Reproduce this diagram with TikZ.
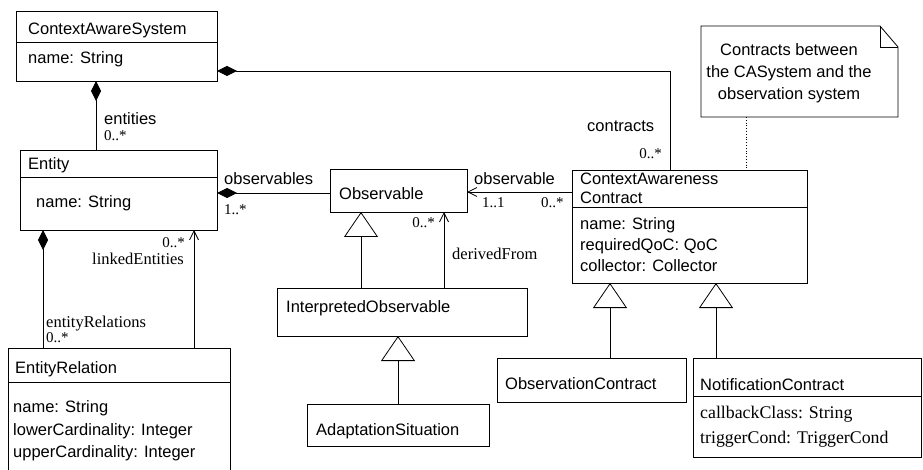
\documentclass[tikz,border=0pt]{standalone}
\usepackage{fontspec}
\setmainfont{Liberation Serif}
\setsansfont{Liberation Sans}
\usetikzlibrary{arrows.meta}
\begin{document}
\begin{tikzpicture}[x=1pt,y=-1pt,
 box/.style={draw, line width=0.8pt, inner sep=0pt, outer sep=0pt, anchor=north west},
 st/.style={anchor=base west, inner sep=0pt, font=\sffamily\fontsize{16.5}{20}\selectfont},
 se/.style={anchor=base west, inner sep=0pt, font=\rmfamily\fontsize{16.5}{20}\selectfont},
 sel/.style={anchor=base west, inner sep=0pt, font=\rmfamily\fontsize{17.8}{20}\selectfont},
 mu/.style={anchor=base west, inner sep=0pt, font=\rmfamily\fontsize{15}{18}\selectfont},
 conn/.style={line width=0.8pt},
 comp/.style={conn, {Diamond[length=20pt,width=10pt]}-},
 nav/.style={conn, -{Straight Barb[length=9pt,width=9pt]}},
 gen/.style={conn, -{Triangle[open,length=25pt,width=34pt,fill=white]}},
]
\clip (0,0) rectangle (923,470);
\fill[white] (0,0) rectangle (923,470);
% boxes
\node[box, minimum width=201pt, minimum height=70pt] (cas) at (16,11) {};
\node[box, minimum width=197pt, minimum height=80pt] (ent) at (20,150) {};
\node[box, minimum width=222pt, minimum height=130pt] (er) at (8,348) {};
\node[box, minimum width=137pt, minimum height=43pt] (obs) at (330,169) {};
\node[box, minimum width=250pt, minimum height=48pt] (io) at (277,288) {};
\node[box, minimum width=182pt, minimum height=42pt] (as) at (307,404) {};
\node[box, minimum width=235pt, minimum height=113pt] (cac) at (572,170) {};
\node[box, minimum width=189pt, minimum height=44pt] (oc) at (497,358) {};
\node[box, minimum width=228pt, minimum height=99pt] (nc) at (693,358) {};
\node[inner sep=0pt, outer sep=0pt, anchor=north west, minimum width=197pt, minimum height=91pt] (note) at (701,26) {};
% dividers
\draw[conn] (cas.west |- 0,42) -- (cas.east |- 0,42);
\draw[conn] (ent.west |- 0,177) -- (ent.east |- 0,177);
\draw[conn] (er.west |- 0,382) -- (er.east |- 0,382);
\draw[conn] (cac.west |- 0,207) -- (cac.east |- 0,207);
\draw[conn] (nc.west |- 0,396) -- (nc.east |- 0,396);
% note shape
\draw[conn] (note.north west) -- (880,26) -- (note.east |- 0,47) -- (note.south east) -- (note.south west) -- cycle;
\draw[conn] (880,26) -- (880,47) -- (note.east |- 0,47);
% texts in boxes
\node[st] (t1) at (28,35) {ContextAwareSystem};
\node[st] (t2) at (28,64) {name: String};
\node[st] (t3) at (28,170) {Entity};
\node[st] (t4) at (36,208) {name: String};
\node[st] (t5) at (15,373) {EntityRelation};
\node[st] (t6) at (13,412) {name: String};
\node[st] (t7) at (13,435) {lowerCardinality: Integer};
\node[st] (t8) at (13,457) {upperCardinality: Integer};
\node[st] (t9) at (339,200) {Observable};
\node[st] (t10) at (286,312) {InterpretedObservable};
\node[st] (t11) at (316,435) {AdaptationSituation};
\node[st] (t12) at (580,185) {ContextAwareness};
\node[st] (t13) at (580,204) {Contract};
\node[st] (t14) at (580,230) {name: String};
\node[st] (t15) at (580,251) {requiredQoC: QoC};
\node[st] (t16) at (580,272) {collector: Collector};
\node[st] (t17) at (505,389) {ObservationContract};
\node[st] (t18) at (700,390) {NotificationContract};
\node[sel] (t19) at (700,418) {callbackClass: String};
\node[sel] (t20) at (700,443) {triggerCond: TriggerCond};
\node[anchor=north, inner sep=0pt, align=center, font=\sffamily\fontsize{16.5}{22}\selectfont] (nt) at (789,43) {Contracts between\\the CASystem and the\\observation system};
% connectors
\draw[comp] (cas.south -| 96,0) -- (ent.north -| 96,0);
\draw[comp] (cas.east |- 0,71) -| (cac.north -| 670,0);
\draw[comp] (ent.east |- 0,193) -- (obs.west |- 0,193);
\draw[nav] (cac.west |- 0,192) -- (obs.east |- 0,192);
\draw[comp] (ent.south -| 43,0) -- (er.north -| 43,0);
\draw[nav] (er.north -| 194,0) -- (ent.south -| 194,0);
\draw[gen] (io.north -| 361,0) -- (obs.south -| 361,0);
\draw[nav] (io.north -| 444,0) -- (obs.south -| 444,0);
\draw[gen] (as.north -| 398,0) -- (io.south -| 398,0);
\draw[gen] (oc.north -| 610,0) -- (cac.south -| 610,0);
\draw[gen] (nc.north -| 716,0) -- (cac.south -| 716,0);
\draw[line width=0.8pt, dotted] (note.south -| 746,0) -- (cac.north -| 746,0);
% connector labels
\node[st] (l1) at (104,125) {entities};
\node[mu] (m1) at (104,141) {0..*};
\node[st] (l2) at (587,132) {contracts};
\node[mu, anchor=base east] (m2) at (662,159) {0..*};
\node[st] (l3) at (224,185) {observables};
\node[mu] (m3) at (224,215) {1..*};
\node[st] (l4) at (474,185) {observable};
\node[mu] (m4) at (482,208) {1..1};
\node[mu] (m5) at (541,208) {0..*};
\node[se] (l5) at (46,327) {entityRelations};
\node[mu] (m6) at (46,342) {0..*};
\node[mu, anchor=base east] (m7) at (185,248) {0..*};
\node[se] (l6) at (92,265) {linkedEntities};
\node[mu, anchor=base east] (m8) at (435,228) {0..*};
\node[se] (l7) at (452,260) {derivedFrom};
\end{tikzpicture}
\end{document}
